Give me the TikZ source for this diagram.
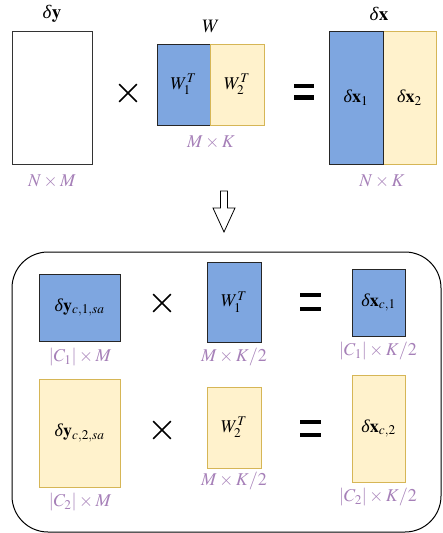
\documentclass[tikz,border=0pt]{standalone}
\usepackage{mathptmx}
\usepackage{fontspec}
\setmainfont{Liberation Serif}
\usetikzlibrary{shapes.misc}
\definecolor{bfill}{HTML}{7EA6E0}
\definecolor{yfill}{HTML}{FFF2CC}
\definecolor{ydraw}{HTML}{D6B656}
\definecolor{lab}{HTML}{A680B8}
\newcommand{\dlt}{\textit{δ}}
\tikzset{
  mat/.style={draw=black, line width=1pt, inner sep=0pt},
  bluebox/.style={mat, fill=bfill, draw=black!85},
  yelbox/.style={mat, fill=yfill, draw=ydraw},
  whitebox/.style={mat, fill=white, draw=black!80},
  dimlab/.style={text=lab, font=\fontsize{18}{21}\selectfont, inner sep=0pt},
  toplab/.style={font=\fontsize{19}{22}\selectfont, inner sep=0pt},
  intext/.style={font=\fontsize{18}{21}\selectfont},
  timessign/.style={cross out, draw=black, line width=1.6pt, minimum size=16pt, inner sep=0pt},
  eqsign/.style={minimum width=20pt, minimum height=16pt, inner sep=0pt,
    path picture={\fill (path picture bounding box.north west) rectangle ([yshift=-4.2pt]path picture bounding box.north east);
                  \fill (path picture bounding box.south west) rectangle ([yshift=4.2pt]path picture bounding box.south east);}}
}
\begin{document}
\begin{tikzpicture}[x=1pt,y=-1pt]
\useasboundingbox (0,0) rectangle (442,533);
% ---------- top row ----------
\node[whitebox, minimum width=80pt, minimum height=133pt] (dy) at (52,97.5) {};
\node[toplab] (dylab) at (52,14) {\dlt$\mathbf{y}$};
\node[dimlab] (dydim) at (52,181) {$N\times M$};
\node[timessign] (t0) at (128,93) {};
\node[bluebox, minimum width=53pt, minimum height=81pt, intext] (w1) at (183.5,84.5) {$W_1^T$};
\node[yelbox, minimum width=54pt, minimum height=81pt, intext] (w2) at (237,84.5) {$W_2^T$};
\node[toplab] (wlab) at (211,26) {$W$};
\node[dimlab] (wdim) at (211,142) {$M\times K$};
\node[eqsign] (e0) at (304,91.5) {};
\node[yelbox, minimum width=53pt, minimum height=133pt, intext] (dx2) at (409.5,97.5) {\dlt$\mathbf{x}_2$};
\node[bluebox, minimum width=54pt, minimum height=133pt, intext] (dx1) at (356,97.5) {\dlt$\mathbf{x}_1$};
\node[toplab] (dxlab) at (379,14) {\dlt$\mathbf{x}$};
\node[dimlab] (dxdim) at (382,181) {$N\times K$};
% ---------- block arrow ----------
\draw[line width=0.8pt, fill=white] (220.5,191) -- (227.5,191) -- (227.5,208) -- (235,208) -- (224,232) -- (213,208) -- (220.5,208) -- cycle;
% ---------- rounded frame ----------
\draw[line width=1pt, rounded corners=36pt] (12,252) rectangle (441,532);
% ---------- row 1 ----------
\node[bluebox, minimum width=81pt, minimum height=67pt, intext] (dyc1) at (79.5,307.5) {\dlt$\mathbf{y}_{c,1,sa}$};
\node[dimlab] (dyc1dim) at (80,357) {$|C_1|\times M$};
\node[timessign] (t1) at (162,303) {};
\node[bluebox, minimum width=54pt, minimum height=80pt, intext] (w1c) at (234,302) {$W_1^T$};
\node[dimlab] (w1cdim) at (234,357) {$M\times K/2$};
\node[eqsign, minimum width=21pt, minimum height=18pt] (e1) at (310.5,302) {};
\node[bluebox, minimum width=53pt, minimum height=67pt, intext] (dxc1) at (378.5,302.5) {\dlt$\mathbf{x}_{c,1}$};
\node[dimlab] (dxc1dim) at (378,351) {$|C_1|\times K/2$};
% ---------- row 2 ----------
\node[yelbox, minimum width=81pt, minimum height=108pt, intext] (dyc2) at (79.5,433) {\dlt$\mathbf{y}_{c,2,sa}$};
\node[dimlab] (dyc2dim) at (80,502) {$|C_2|\times M$};
\node[timessign] (t2) at (162,430) {};
\node[yelbox, minimum width=54pt, minimum height=81pt, intext] (w2c) at (234,427.5) {$W_2^T$};
\node[dimlab] (w2cdim) at (234,481) {$M\times K/2$};
\node[eqsign, minimum width=21pt, minimum height=17pt] (e2) at (310.5,428.5) {};
\node[yelbox, minimum width=53pt, minimum height=107pt, intext] (dxc2) at (378.5,428.5) {\dlt$\mathbf{x}_{c,2}$};
\node[dimlab] (dxc2dim) at (378,497) {$|C_2|\times K/2$};
\end{tikzpicture}
\end{document}
